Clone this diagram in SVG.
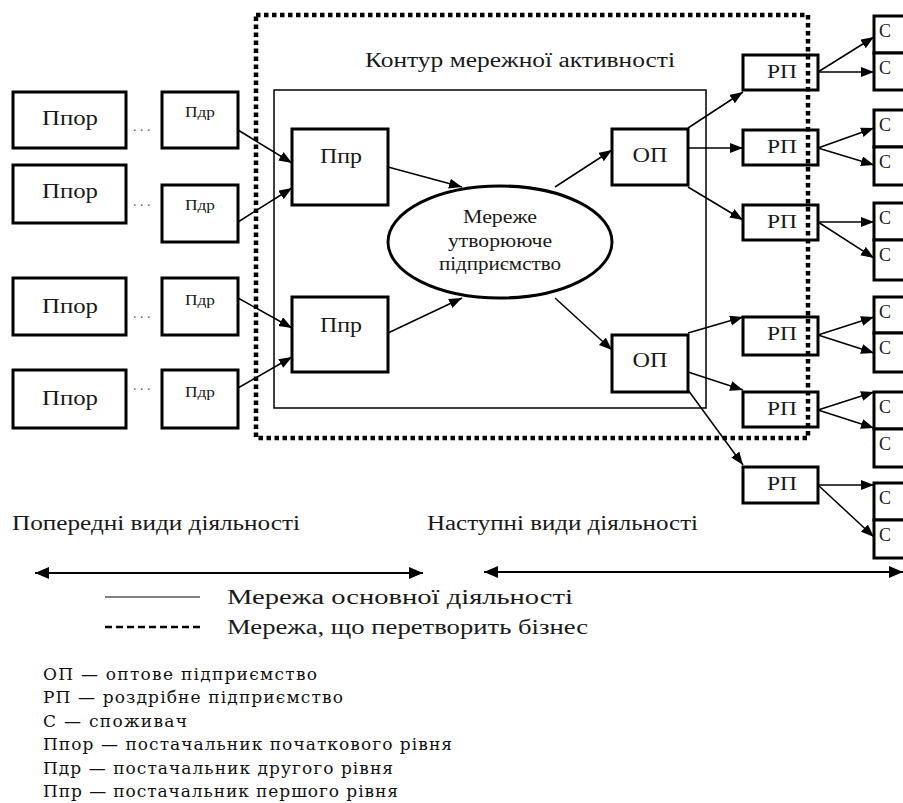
<svg xmlns="http://www.w3.org/2000/svg" width="903" height="803" viewBox="0 0 903 803">
<style>
.box{fill:#fff;stroke:#000;stroke-width:3}
.t{font-family:'Liberation Serif','DejaVu Serif','Times New Roman',serif;fill:#1a1a1a}
.lg{font-family:'DejaVu Serif','Liberation Serif',serif;fill:#111;font-size:17px}
.c{stroke:#000;stroke-width:1.5;fill:none;marker-end:url(#ah)}
.dots{font-family:'Liberation Serif','DejaVu Serif',serif;fill:#666;font-size:14px}
</style>
<defs>
<marker id="ah" markerUnits="userSpaceOnUse" markerWidth="14" markerHeight="12" refX="13" refY="5" orient="auto">
<path d="M0,0 L13,5 L0,10 z" fill="#000"/>
</marker>
<marker id="ah2" markerUnits="userSpaceOnUse" markerWidth="16" markerHeight="14" refX="14" refY="6" orient="auto-start-reverse">
<path d="M0,0 L14,6 L0,12 z" fill="#000"/>
</marker>
</defs>
<rect width="903" height="803" fill="#fff"/>

<rect id="inner-contour" x="274" y="90" width="432" height="318" fill="none" stroke="#000" stroke-width="1.5"/>
<text class="t" x="365" y="67" font-size="20" textLength="310" lengthAdjust="spacingAndGlyphs">Контур мережної активності</text>

<g id="connectors">
<line class="c" x1="238" y1="130" x2="292" y2="163"/>
<line class="c" x1="238" y1="222" x2="292" y2="188"/>
<line class="c" x1="238" y1="298" x2="292" y2="328"/>
<line class="c" x1="238" y1="388" x2="292" y2="357"/>
<line class="c" x1="388" y1="167" x2="462" y2="187"/>
<line class="c" x1="388" y1="333" x2="462" y2="298"/>
<line class="c" x1="555" y1="187" x2="612" y2="150"/>
<line class="c" x1="555" y1="298" x2="612" y2="350"/>
<line class="c" x1="688" y1="128" x2="743" y2="92"/>
<line class="c" x1="688" y1="148" x2="743" y2="148"/>
<line class="c" x1="688" y1="187" x2="743" y2="220"/>
<line class="c" x1="688" y1="333" x2="743" y2="317"/>
<line class="c" x1="688" y1="372" x2="743" y2="390"/>
<line class="c" x1="688" y1="390" x2="743" y2="465"/>
<line class="c" x1="818" y1="72" x2="874" y2="37"/>
<line class="c" x1="818" y1="72" x2="874" y2="72"/>
<line class="c" x1="818" y1="148" x2="874" y2="128"/>
<line class="c" x1="818" y1="148" x2="874" y2="165"/>
<line class="c" x1="818" y1="222" x2="874" y2="222"/>
<line class="c" x1="818" y1="222" x2="874" y2="258"/>
<line class="c" x1="818" y1="335" x2="874" y2="317"/>
<line class="c" x1="818" y1="335" x2="874" y2="353"/>
<line class="c" x1="818" y1="410" x2="874" y2="392"/>
<line class="c" x1="818" y1="410" x2="874" y2="428"/>
<line class="c" x1="818" y1="485" x2="874" y2="485"/>
<line class="c" x1="818" y1="485" x2="874" y2="537"/>
</g>

<g id="ppor1"><rect class="box" x="13" y="92" width="113" height="56"/><text class="t" x="70" y="125" font-size="22" text-anchor="middle" textLength="56" lengthAdjust="spacingAndGlyphs">Ппор</text></g>
<g id="ppor2"><rect class="box" x="13" y="165" width="113" height="58"/><text class="t" x="70" y="198" font-size="22" text-anchor="middle" textLength="56" lengthAdjust="spacingAndGlyphs">Ппор</text></g>
<g id="ppor3"><rect class="box" x="13" y="278" width="113" height="57"/><text class="t" x="70" y="313" font-size="22" text-anchor="middle" textLength="56" lengthAdjust="spacingAndGlyphs">Ппор</text></g>
<g id="ppor4"><rect class="box" x="13" y="370" width="113" height="58"/><text class="t" x="70" y="405" font-size="22" text-anchor="middle" textLength="56" lengthAdjust="spacingAndGlyphs">Ппор</text></g>

<g id="dots"><text class="dots" x="133" y="131">. . .</text><text class="dots" x="133" y="206">. . .</text><text class="dots" x="133" y="318">. . .</text><text class="dots" x="133" y="390">. . .</text></g>

<g id="pdr1"><rect class="box" x="162" y="92" width="76" height="56"/><text class="t" x="200" y="117" font-size="14" text-anchor="middle" textLength="30" lengthAdjust="spacingAndGlyphs" fill="#444">Пдр</text></g>
<g id="pdr2"><rect class="box" x="162" y="185" width="76" height="57"/><text class="t" x="200" y="210" font-size="14" text-anchor="middle" textLength="30" lengthAdjust="spacingAndGlyphs" fill="#444">Пдр</text></g>
<g id="pdr3"><rect class="box" x="162" y="278" width="76" height="57"/><text class="t" x="200" y="305" font-size="14" text-anchor="middle" textLength="30" lengthAdjust="spacingAndGlyphs" fill="#444">Пдр</text></g>
<g id="pdr4"><rect class="box" x="162" y="370" width="76" height="58"/><text class="t" x="200" y="397" font-size="14" text-anchor="middle" textLength="30" lengthAdjust="spacingAndGlyphs" fill="#444">Пдр</text></g>

<g id="ppr1"><rect class="box" x="292" y="129" width="96" height="76"/><text class="t" x="341" y="163" font-size="21" text-anchor="middle" textLength="42" lengthAdjust="spacingAndGlyphs">Ппр</text></g>
<g id="ppr2"><rect class="box" x="292" y="297" width="96" height="75"/><text class="t" x="341" y="332" font-size="21" text-anchor="middle" textLength="42" lengthAdjust="spacingAndGlyphs">Ппр</text></g>

<g id="network-enterprise"><ellipse cx="500" cy="242" rx="112" ry="56" fill="#fff" stroke="#000" stroke-width="3"/>
<text class="t" x="500" y="223" font-size="18" text-anchor="middle" textLength="74" lengthAdjust="spacingAndGlyphs">Мереже</text>
<text class="t" x="500" y="247" font-size="18" text-anchor="middle" textLength="104" lengthAdjust="spacingAndGlyphs">утворююче</text>
<text class="t" x="500" y="270" font-size="18" text-anchor="middle" textLength="122" lengthAdjust="spacingAndGlyphs">підприємство</text></g>

<g id="op1"><rect class="box" x="612" y="129" width="76" height="56"/><text class="t" x="650" y="162" font-size="21" text-anchor="middle" textLength="35" lengthAdjust="spacingAndGlyphs">ОП</text></g>
<g id="op2"><rect class="box" x="612" y="335" width="76" height="57"/><text class="t" x="650" y="367" font-size="21" text-anchor="middle" textLength="35" lengthAdjust="spacingAndGlyphs">ОП</text></g>

<g id="rp1"><rect class="box" x="743" y="55" width="75" height="35"/><text class="t" x="782" y="78" font-size="18" text-anchor="middle" textLength="30" lengthAdjust="spacingAndGlyphs">РП</text></g>
<g id="rp2"><rect class="box" x="743" y="130" width="75" height="35"/><text class="t" x="782" y="153" font-size="18" text-anchor="middle" textLength="30" lengthAdjust="spacingAndGlyphs">РП</text></g>
<g id="rp3"><rect class="box" x="743" y="205" width="75" height="35"/><text class="t" x="782" y="228" font-size="18" text-anchor="middle" textLength="30" lengthAdjust="spacingAndGlyphs">РП</text></g>
<g id="rp4"><rect class="box" x="743" y="317" width="75" height="38"/><text class="t" x="782" y="340" font-size="18" text-anchor="middle" textLength="30" lengthAdjust="spacingAndGlyphs">РП</text></g>
<g id="rp5"><rect class="box" x="743" y="392" width="75" height="35"/><text class="t" x="782" y="415" font-size="18" text-anchor="middle" textLength="30" lengthAdjust="spacingAndGlyphs">РП</text></g>
<g id="rp6"><rect class="box" x="743" y="467" width="75" height="36"/><text class="t" x="782" y="490" font-size="18" text-anchor="middle" textLength="30" lengthAdjust="spacingAndGlyphs">РП</text></g>

<g id="c1"><rect class="box" x="874" y="16" width="40" height="37"/><text class="t" x="879" y="37" font-size="18">С</text></g>
<g id="c2"><rect class="box" x="874" y="53" width="40" height="37"/><text class="t" x="879" y="74" font-size="18">С</text></g>
<g id="c3"><rect class="box" x="874" y="110" width="40" height="37"/><text class="t" x="879" y="131" font-size="18">С</text></g>
<g id="c4"><rect class="box" x="874" y="147" width="40" height="38"/><text class="t" x="879" y="168" font-size="18">С</text></g>
<g id="c5"><rect class="box" x="874" y="203" width="40" height="37"/><text class="t" x="879" y="224" font-size="18">С</text></g>
<g id="c6"><rect class="box" x="874" y="240" width="40" height="40"/><text class="t" x="879" y="261" font-size="18">С</text></g>
<g id="c7"><rect class="box" x="874" y="297" width="40" height="36"/><text class="t" x="879" y="318" font-size="18">С</text></g>
<g id="c8"><rect class="box" x="874" y="333" width="40" height="39"/><text class="t" x="879" y="354" font-size="18">С</text></g>
<g id="c9"><rect class="box" x="874" y="392" width="40" height="37"/><text class="t" x="879" y="413" font-size="18">С</text></g>
<g id="c10"><rect class="box" x="874" y="429" width="40" height="38"/><text class="t" x="879" y="450" font-size="18">С</text></g>
<g id="c11"><rect class="box" x="874" y="483" width="40" height="37"/><text class="t" x="879" y="504" font-size="18">С</text></g>
<g id="c12"><rect class="box" x="874" y="520" width="40" height="38"/><text class="t" x="879" y="541" font-size="18">С</text></g>

<rect id="activity-contour" x="256" y="15" width="552" height="423" fill="none" stroke="#000" stroke-width="4.5" stroke-dasharray="4.5 3.5"/>

<g id="bottom">
<text class="t" x="12" y="530" font-size="20" textLength="288" lengthAdjust="spacingAndGlyphs">Попередні види діяльності</text>
<text class="t" x="427" y="530" font-size="20" textLength="271" lengthAdjust="spacingAndGlyphs">Наступні види діяльності</text>
<line x1="35" y1="573" x2="423" y2="573" stroke="#000" stroke-width="2" marker-start="url(#ah2)" marker-end="url(#ah2)"/>
<line x1="484" y1="572" x2="903" y2="572" stroke="#000" stroke-width="2" marker-start="url(#ah2)" marker-end="url(#ah2)"/>
<line x1="105" y1="597" x2="200" y2="597" stroke="#000" stroke-width="1"/>
<line x1="105" y1="627" x2="200" y2="627" stroke="#000" stroke-width="2.5" stroke-dasharray="7 4"/>
<text class="t" x="227" y="604" font-size="20" textLength="346" lengthAdjust="spacingAndGlyphs">Мережа основної діяльності</text>
<text class="t" x="227" y="634" font-size="20" textLength="361" lengthAdjust="spacingAndGlyphs">Мережа, що перетворить бізнес</text>
</g>

<g id="legend">
<text class="lg" x="43" y="680" textLength="274" lengthAdjust="spacing">ОП — оптове підприємство</text>
<text class="lg" x="43" y="703" textLength="300" lengthAdjust="spacing">РП — роздрібне підприємство</text>
<text class="lg" x="43" y="727" textLength="144" lengthAdjust="spacing">С — споживач</text>
<text class="lg" x="43" y="750" textLength="409" lengthAdjust="spacing">Ппор — постачальник початкового рівня</text>
<text class="lg" x="43" y="774" textLength="350" lengthAdjust="spacing">Пдр — постачальник другого рівня</text>
<text class="lg" x="43" y="797" textLength="355" lengthAdjust="spacing">Ппр — постачальник першого рівня</text>
</g>
</svg>
